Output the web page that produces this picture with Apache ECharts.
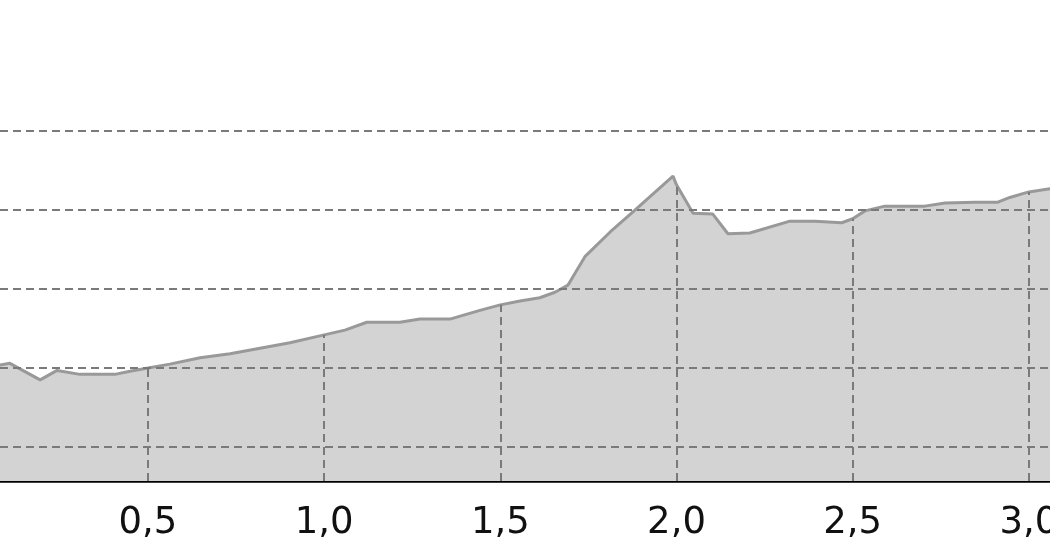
<!DOCTYPE html>
<html>
<head>
<meta charset="utf-8">
<script src="https://cdn.jsdelivr.net/npm/echarts@6/dist/echarts.min.js"></script>
<style>html,body{margin:0;padding:0;background:#fff}#c{width:1050px;height:560px}</style>
</head>
<body>
<div id="c"></div>
<script>
// distance values (x) and profile values (y)
const distances = [0.00, 0.08, 0.108, 0.194, 0.242, 0.307, 0.406, 0.449, 0.500, 0.562, 0.648, 0.733, 0.818, 0.903, 1.000, 1.059, 1.121, 1.215, 1.272, 1.357, 1.442, 1.500, 1.556, 1.612, 1.655, 1.692, 1.712, 1.740, 1.811, 1.882, 1.990, 2.000, 2.047, 2.103, 2.146, 2.208, 2.322, 2.393, 2.469, 2.500, 2.535, 2.591, 2.705, 2.762, 2.847, 2.912, 2.946, 3.000, 3.060, 3.120];
const heights   = [110.2, 110.4, 110.6, 108.5, 109.7, 109.2, 109.2, 109.6, 110.0, 110.5, 111.3, 111.8, 112.5, 113.2, 114.2, 114.8, 115.8, 115.8, 116.2, 116.2, 117.3, 118.0, 118.5, 118.9, 119.6, 120.5, 122.0, 124.1, 127.2, 130.0, 134.3, 133.2, 129.6, 129.5, 127.0, 127.1, 128.6, 128.6, 128.4, 128.9, 129.9, 130.5, 130.5, 130.9, 131.0, 131.0, 131.6, 132.3, 132.7, 132.9];
const xTicks = [0.5, 1.0, 1.5, 2.0, 2.5, 3.0];
const xTickLabels = ['0,5', '1,0', '1,5', '2,0', '2,5', '3,0'];
const yGridValues = [100, 110, 120, 130, 140];
const xMin = 0.080, xMax = 3.060;
const yMin = 95.7, yMax = 156.6;

const seriesData = distances.map((d, i) => [d, heights[i]]);
function heightAt(x) {
  for (let i = 0; i < distances.length; i++) {
    if (Math.abs(distances[i] - x) < 1e-9) return heights[i];
  }
  return null;
}
const dropLines = xTicks.filter(t => heightAt(t) !== null).map(t => [
  { coord: [t, yMin] }, { coord: [t, heightAt(t)] }
]);
const gridStyle = { color: '#7a7a7a', width: 2, type: [8, 5] };

const chart = echarts.init(document.getElementById('c'), null, { renderer: 'canvas' });
chart.setOption({
  animation: false,
  grid: { left: 0, right: 0, top: 0, bottom: 79, containLabel: false, outerBoundsMode: 'none' },
  xAxis: {
    type: 'value', min: xMin, max: xMax,
    axisLine: { show: true, onZero: false, lineStyle: { color: '#000', width: 2.5 } },
    axisTick: { show: false },
    splitLine: { show: false },
    axisLabel: {
      customValues: xTicks,
      margin: 24,
      fontFamily: 'DejaVu Sans', fontSize: 37, color: '#111',
      formatter: v => { const i = xTicks.findIndex(t => Math.abs(t - v) < 1e-9); return i >= 0 ? xTickLabels[i] : ''; }
    }
  },
  yAxis: {
    type: 'value', min: yMin, max: yMax,
    axisLine: { show: false }, axisTick: { show: false }, axisLabel: { show: false }, splitLine: { show: false }
  },
  series: [
    {
      type: 'line', data: seriesData, showSymbol: false, symbol: 'none', z: 2, clip: true,
      lineStyle: { color: '#999999', width: 3 },
      areaStyle: { color: '#d3d3d3', opacity: 1, origin: 'start' }
    },
    {
      type: 'line', data: [], z: 5, silent: true,
      markLine: {
        silent: true, symbol: ['none', 'none'], label: { show: false }, animation: false,
        lineStyle: gridStyle,
        data: yGridValues.map(v => ({ yAxis: v })).concat(dropLines)
      }
    }
  ]
});
</script>
</body>
</html>
